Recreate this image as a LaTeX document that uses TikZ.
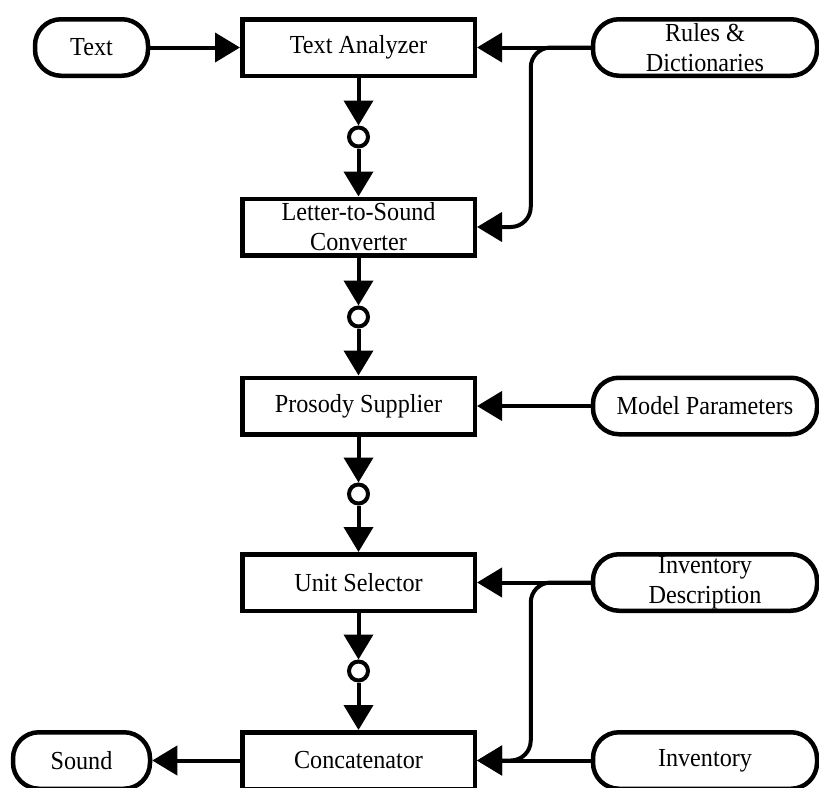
\documentclass[tikz,border=0pt]{standalone}
\usepackage{fontspec}
\setmainfont[FakeStretch=0.93]{Liberation Serif}
\usetikzlibrary{arrows.meta}
\begin{document}
\begin{tikzpicture}[x=1pt,y=-1pt,
  every node/.style={font=\fontsize{26}{30}\selectfont, align=center, inner sep=0pt},
  procbox/.style={draw, line width=4.5pt, minimum width=232.5pt, minimum height=56.5pt},
  pill/.style={draw, line width=4.5pt, rounded corners=26pt, minimum height=56.5pt},
  junc/.style={draw, circle, line width=4pt, minimum size=19pt},
  conn/.style={line width=4pt, -{Triangle[length=25pt,width=29pt]}},
  plain/.style={line width=4pt}]
\useasboundingbox (0,0) rectangle (819,787);
% processing boxes
\node[procbox] (ta) at (358.5,47.5) {Text Analyzer};
\node[procbox] (lts) at (358.5,227) {Letter-to-Sound\\Converter};
\node[procbox] (ps) at (358.5,406) {Prosody Supplier};
\node[procbox] (us) at (358.5,582.5) {Unit Selector};
\node[procbox] (conc) at (358.5,760.5) {Concatenator};
% pills
\node[pill, minimum width=113pt] (text) at (91.5,47.5) {Text};
\node[pill, minimum width=137pt] (sound) at (81.5,760.5) {Sound};
\node[pill, minimum width=224pt] (rules) at (705,47.5) {Rules \&\\Dictionaries};
\node[pill, minimum width=224pt] (model) at (705,406) {Model Parameters};
\node[pill, minimum width=224pt] (invd) at (705,582.5) {Inventory\\Description};
\node[pill, minimum width=224pt] (inv) at (705,760.5) {Inventory};
% junctions
\node[junc] (j1) at (358.5,137) {};
\node[junc] (j2) at (358.5,317) {};
\node[junc] (j3) at (358.5,494) {};
\node[junc] (j4) at (358.5,671) {};
% main flow
\draw[conn] (text) -- (ta);
\draw[conn] (ta) -- (j1);
\draw[conn] (j1) -- (lts);
\draw[conn] (lts) -- (j2);
\draw[conn] (j2) -- (ps);
\draw[conn] (ps) -- (j3);
\draw[conn] (j3) -- (us);
\draw[conn] (us) -- (j4);
\draw[conn] (j4) -- (conc);
\draw[conn] (conc) -- (sound);
% side inputs
\draw[conn] (rules) -- (ta);
\draw[conn, rounded corners=20pt] (rules.west) -- ++(-60,0) |- (lts.east);
\draw[conn] (model) -- (ps);
\draw[conn] (invd) -- (us);
\draw[conn, rounded corners=20pt] (invd.west) -- ++(-60,0) |- (conc.east);
\draw[conn] (inv) -- (conc);
\end{tikzpicture}
\end{document}
